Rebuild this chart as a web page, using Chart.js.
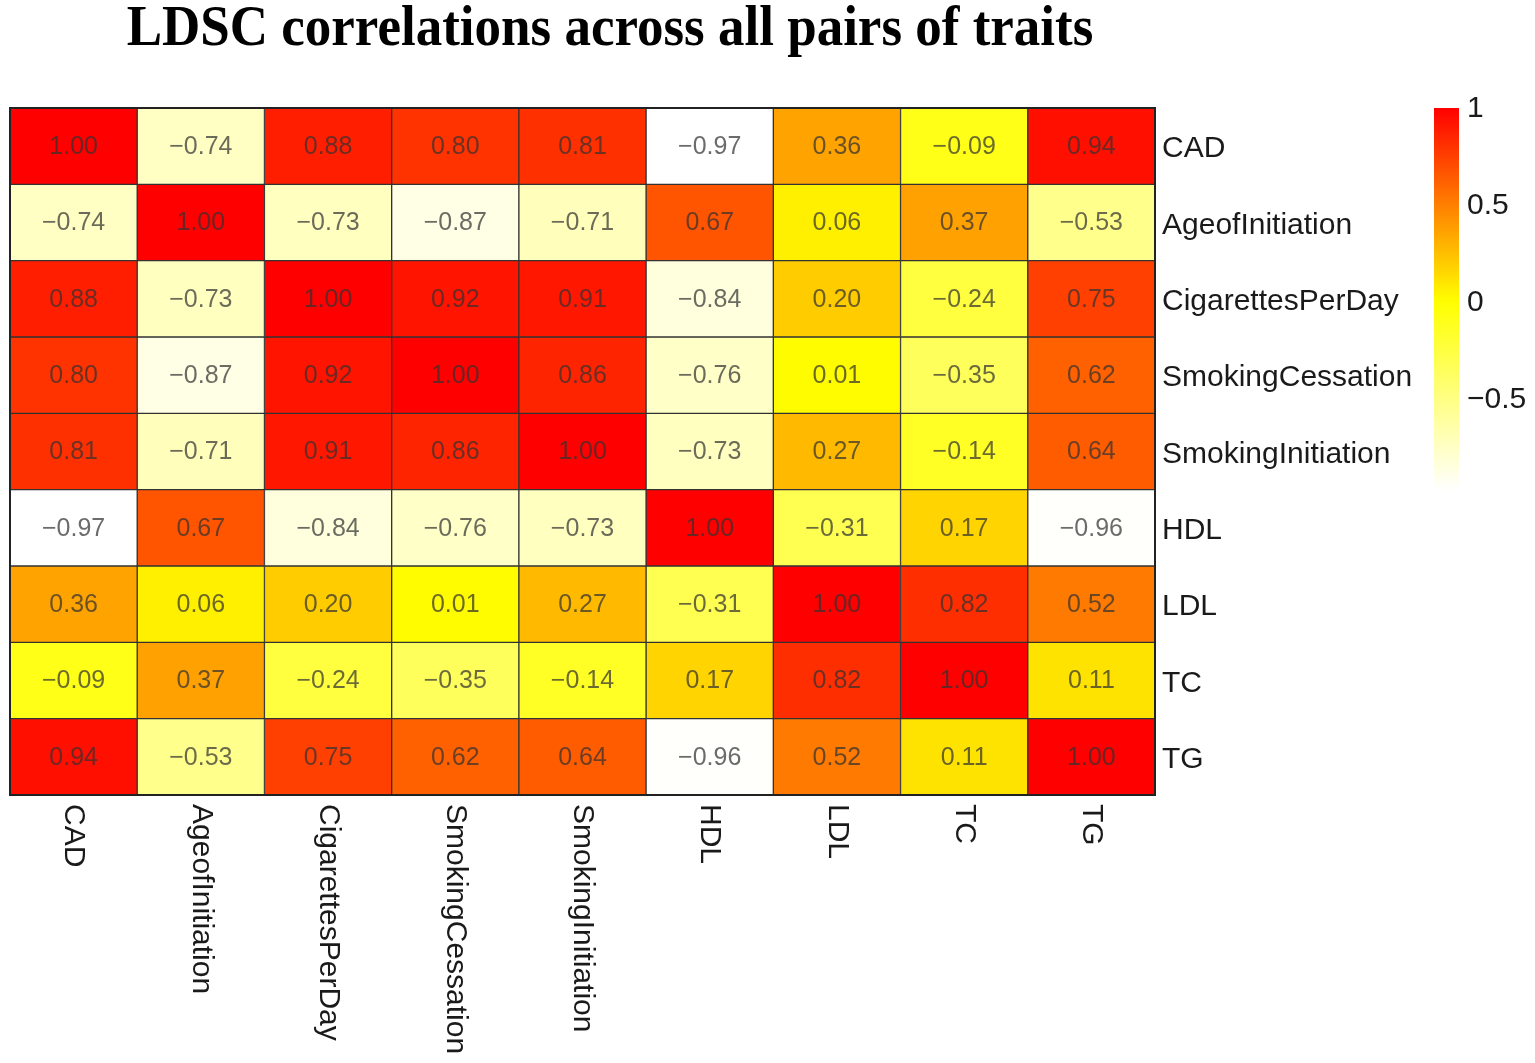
<!DOCTYPE html>
<html>
<head>
<meta charset="utf-8">
<script src="https://cdn.jsdelivr.net/npm/chart.js@4.4.1/dist/chart.umd.min.js"></script>
<style>
  html, body { margin: 0; padding: 0; background: #fff; }
  #wrap { width: 1535px; height: 1063px; position: relative; }
</style>
</head>
<body>
<div id="wrap"><canvas id="ldsc_chart"></canvas></div>
<script>
// traits, same order for rows (top to bottom) and columns (left to right)
const traits = ['CAD', 'AgeofInitiation', 'CigarettesPerDay', 'SmokingCessation',
                'SmokingInitiation', 'HDL', 'LDL', 'TC', 'TG'];

// one array per row of the correlation matrix
const rowCAD = [1.00, -0.74, 0.88, 0.80, 0.81, -0.97, 0.36, -0.09, 0.94];
const rowAge = [-0.74, 1.00, -0.73, -0.87, -0.71, 0.67, 0.06, 0.37, -0.53];
const rowCig = [0.88, -0.73, 1.00, 0.92, 0.91, -0.84, 0.20, -0.24, 0.75];
const rowCess = [0.80, -0.87, 0.92, 1.00, 0.86, -0.76, 0.01, -0.35, 0.62];
const rowInit = [0.81, -0.71, 0.91, 0.86, 1.00, -0.73, 0.27, -0.14, 0.64];
const rowHDL = [-0.97, 0.67, -0.84, -0.76, -0.73, 1.00, -0.31, 0.17, -0.96];
const rowLDL = [0.36, 0.06, 0.20, 0.01, 0.27, -0.31, 1.00, 0.82, 0.52];
const rowTC = [-0.09, 0.37, -0.24, -0.35, -0.14, 0.17, 0.82, 1.00, 0.11];
const rowTG = [0.94, -0.53, 0.75, 0.62, 0.64, -0.96, 0.52, 0.11, 1.00];

const matrix = [rowCAD, rowAge, rowCig, rowCess, rowInit, rowHDL, rowLDL, rowTC, rowTG];

// colour key
const legendTicks = [1, 0.5, 0, -0.5];
const colorMin = -0.97;
const colorMax = 1;

// white -> yellow (at 0) -> red (at 1)
function heatColor(v){
    if (v >= 0) {
        let g = Math.round(255 * (1 - Math.min(v, 1)));
        return `rgb(255,${g},0)`;
    }
    let b = Math.round(255 * Math.min(-v / -colorMin, 1));
    return `rgb(255,255,${b})`;
}

function fmt(v){
    return v.toFixed(2).replace('-', '\u2212');
}

const FONT = 'Arial, "Liberation Sans", Helvetica, sans-serif';

// one stacked dataset per row; each cell is one unit tall
const datasets = matrix.map(function(row, r){
    return {
        label: traits[r],
        data: row.map(function(){ return 1; }),
        corr: row,
        backgroundColor: row.map(heatColor),
        borderColor: '#333',
        borderWidth: 1,
        borderSkipped: false,
        barPercentage: 1.0,
        categoryPercentage: 1.0
    };
});

const heatPlugin = {
    id: 'heatExtras',
    afterDatasetsDraw(chart){
        const ctx = chart.ctx;
        ctx.save();
        ctx.font = '25px ' + FONT;
        ctx.fillStyle = 'rgba(50,50,50,0.72)';
        ctx.textAlign = 'center';
        ctx.textBaseline = 'middle';
        chart.data.datasets.forEach(function(ds, i){
            const meta = chart.getDatasetMeta(i);
            meta.data.forEach(function(bar, j){
                const c = bar.getCenterPoint();
                ctx.fillText(fmt(ds.corr[j]), c.x, c.y + 1);
            });
        });
        // outer frame
        const a = chart.chartArea;
        ctx.strokeStyle = '#222';
        ctx.lineWidth = 2;
        ctx.strokeRect(a.left, a.top, a.right - a.left, a.bottom - a.top);
        ctx.restore();
    },
    afterDraw(chart){
        const ctx = chart.ctx;
        const a = chart.chartArea;
        const xs = chart.scales.x;
        ctx.save();

        // title (slightly tall, like the original)
        ctx.save();
        ctx.translate(610, 45);
        ctx.scale(1, 1.08);
        ctx.font = 'bold 53px "Liberation Serif", "Times New Roman", serif';
        ctx.fillStyle = '#000';
        ctx.textAlign = 'center';
        ctx.textBaseline = 'alphabetic';
        ctx.fillText('LDSC correlations across all pairs of traits', 0, 0);
        ctx.restore();

        // column labels, rotated clockwise
        ctx.font = '30px ' + FONT;
        ctx.fillStyle = '#1a1a1a';
        ctx.textAlign = 'left';
        ctx.textBaseline = 'middle';
        traits.forEach(function(t, i){
            const x = xs.getPixelForValue(i);
            ctx.save();
            ctx.translate(x, a.bottom + 9);
            ctx.rotate(Math.PI / 2);
            ctx.fillText(t, 0, 0);
            ctx.restore();
        });

        // colour key
        const keyX = 1434, keyW = 25;
        const yOf = function(v){ return 302 - 194 * v; };
        const top = yOf(colorMax), bottom = yOf(colorMin);
        const grad = ctx.createLinearGradient(0, top, 0, bottom);
        for (let k = 0; k <= 40; k++) {
            const v = colorMax - (colorMax - colorMin) * k / 40;
            grad.addColorStop(k / 40, heatColor(v));
        }
        ctx.fillStyle = grad;
        ctx.fillRect(keyX, top, keyW, bottom - top);

        ctx.font = '30px ' + FONT;
        ctx.fillStyle = '#1a1a1a';
        ctx.textAlign = 'left';
        ctx.textBaseline = 'middle';
        legendTicks.forEach(function(v){
            ctx.fillText(String(v).replace('-', '\u2212'), 1467, yOf(v) + 1);
        });
        ctx.restore();
    }
};

let chart = new Chart('ldsc_chart', {
    type: 'bar',
    data: {
        labels: traits,
        datasets: datasets
    },
    options: {
        responsive: true,
        maintainAspectRatio: false,
        animation: false,
        layout: {
            padding: { top: 108, left: 10, right: 100, bottom: 268 }
        },
        plugins: {
            legend: { display: false },
            title: { display: false },
            tooltip: { enabled: false }
        },
        scales: {
            x: {
                stacked: true,
                display: false
            },
            y: {
                stacked: true,
                reverse: true,
                min: 0,
                max: 9,
                display: false
            },
            yLab: {
                type: 'category',
                labels: traits,
                position: 'right',
                offset: true,
                grid: { display: false, drawTicks: false },
                border: { display: false },
                ticks: {
                    color: '#1a1a1a',
                    padding: 7,
                    labelOffset: 3,
                    font: { family: FONT, size: 30 }
                },
                afterFit: function(scale){ scale.width = 280; }
            }
        }
    },
    plugins: [heatPlugin]
});
</script>
</body>
</html>
